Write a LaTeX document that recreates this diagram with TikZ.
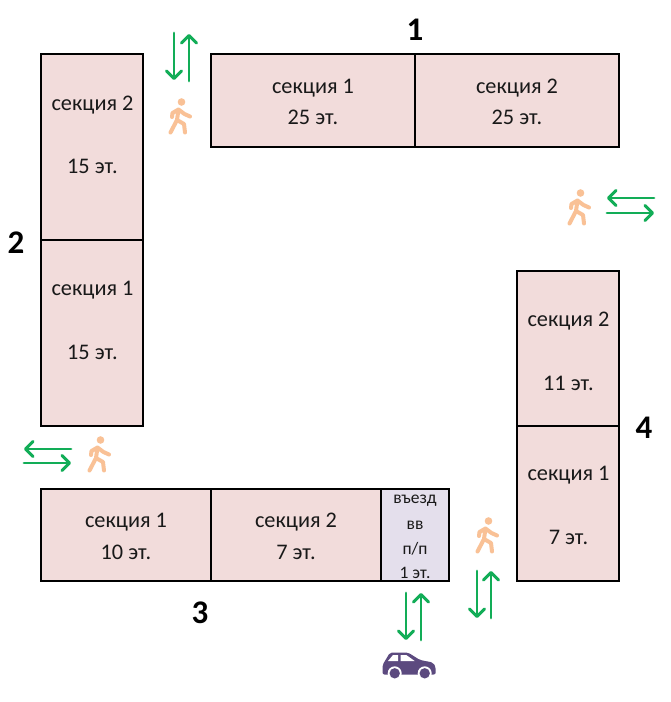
\documentclass[tikz,border=0pt]{standalone}
\usepackage{fontspec}
\setmainfont{Carlito}
\usetikzlibrary{arrows.meta}
\definecolor{pinkfill}{HTML}{F2DCDB}
\definecolor{lilacfill}{HTML}{E4DFEC}
\definecolor{flow}{HTML}{12AD57}
\definecolor{walk}{HTML}{F9C196}
\definecolor{carcol}{HTML}{5C4A7F}
\pgfdeclarearrow{
  name=VBarb,
  setup code={
    \pgfarrowssettipend{1.5pt}
    \pgfarrowssetbackend{-8pt}
    \pgfarrowssetlineend{-1pt}
    \pgfarrowssetvisualbackend{-1pt}
  },
  drawing code={
    \pgfsetlinewidth{3pt}
    \pgfsetroundcap
    \pgfsetroundjoin
    \pgfsetdash{}{0pt}
    \pgfpathmoveto{\pgfpoint{-7.5pt}{7.5pt}}
    \pgfpathlineto{\pgfpointorigin}
    \pgfpathlineto{\pgfpoint{-7.5pt}{-7.5pt}}
    \pgfusepathqstroke
  }
}
\tikzset{
  section/.style={draw=black,line width=2.3pt,fill=pinkfill},
  entry/.style={draw=black,line width=2.3pt,fill=lilacfill},
  lbl/.style={font=\fontsize{22.3}{26}\selectfont,inner sep=0pt,text=black!90},
  small/.style={font=\fontsize{17.5}{20}\selectfont,inner sep=0pt,text=black!90},
  num/.style={font=\fontsize{33}{38}\selectfont\bfseries,inner sep=0pt},
  flowarrow/.style={draw=flow,line width=2.8pt,line cap=round,-{VBarb}},
  walker/.pic={
    \fill[walk] (2.5,-15) circle (3.8);
    \draw[walk,line width=4pt,line cap=round,line join=round]
      (-0.5,-7.5) -- (-2,3) -- (-8.5,15.5)
      (-2,3) -- (5,7) -- (6,15.5)
      (-0.5,-7.5) -- (-6.5,-4) -- (-7,0)
      (-0.5,-7.5) -- (5.5,-3) -- (11,-0.5);
  },
  carpic/.pic={
    \fill[carcol,rounded corners=2pt] (-27.5,8.5) -- (-27.5,-1) -- (-20,-13.5) -- (-2,-13.5) -- (10,-6) -- (23,-3.5) -- (25.7,1) -- (25.7,8.5) -- cycle;
    \fill[white] (-22,-5) -- (-17,-11) -- (-12,-11) -- (-12,-5) -- cycle;
    \fill[white] (-9.3,-11) -- (-3.7,-11) -- (4.7,-5) -- (-9.3,-5) -- cycle;
    \foreach \wx in {-15.3,14.7} {
      \fill[white] (\wx,7.3) circle (7);
      \fill[carcol] (\wx,7.3) circle (5.2);
    }
  }
}
\begin{document}
\begin{tikzpicture}[x=1pt,y=-1pt]
\useasboundingbox[fill=white] (0,0) rectangle (670,702);
% block 1
\path[section] (211,54) rectangle (415,147);
\path[section] (415,54) rectangle (619,147);
\node[lbl] (a1) at (313,88.5) {секция 1};
\node[lbl] (a2) at (313,117) {25 эт.};
\node[lbl] (a3) at (517,88.5) {секция 2};
\node[lbl] (a4) at (517,117) {25 эт.};
\node[num] (n1) at (415,30) {1};
% block 2
\path[section] (41,54) rectangle (143,240);
\path[section] (41,240) rectangle (143,426);
\node[lbl] (b1) at (92.5,105.5) {секция 2};
\node[lbl] (b2) at (92.5,166.5) {15 эт.};
\node[lbl] (b3) at (92.5,290.5) {секция 1};
\node[lbl] (b4) at (92.5,352) {15 эт.};
\node[num] (n2) at (16,243) {2};
% block 3
\path[section] (41,489) rectangle (211,581);
\path[section] (211,489) rectangle (381,581);
\path[entry] (381,489) rectangle (449,581);
\node[lbl] (c1) at (126,522.5) {секция 1};
\node[lbl] (c2) at (126,552) {10 эт.};
\node[lbl] (c3) at (296,522.5) {секция 2};
\node[lbl] (c4) at (296,552) {7 эт.};
\node[small] (e1) at (415,500.5) {въезд};
\node[small] (e2) at (415,525) {вв};
\node[small] (e3) at (415,548.5) {п/п};
\node[small] (e4) at (415,572.5) {1 эт.};
\node[num] (n3) at (200,613) {3};
% block 4
\path[section] (517,271) rectangle (619,426);
\path[section] (517,426) rectangle (619,581);
\node[lbl] (d1) at (568.5,321.5) {секция 2};
\node[lbl] (d2) at (568.5,383) {11 эт.};
\node[lbl] (d3) at (568.5,475.5) {секция 1};
\node[lbl] (d4) at (568.5,537) {7 эт.};
\node[num] (n4) at (644,428) {4};
% walkers
\pic at (179,117) {walker};
\pic at (578,208) {walker};
\pic at (98,455) {walker};
\pic at (486,536) {walker};
% car
\pic at (410,666) {carpic};
% flows
\coordinate (ta) at (174,33); \coordinate (tb) at (174,80);
\coordinate (tc) at (189,81); \coordinate (td) at (189,34);
\draw[flowarrow] (ta) -- (tb);
\draw[flowarrow] (tc) -- (td);
\coordinate (ra) at (654,198); \coordinate (rb) at (607,198);
\coordinate (rc) at (607,213); \coordinate (rd) at (654,213);
\draw[flowarrow] (ra) -- (rb);
\draw[flowarrow] (rc) -- (rd);
\coordinate (la) at (71,449); \coordinate (lb) at (24,449);
\coordinate (lc) at (24,463); \coordinate (ld) at (71,463);
\draw[flowarrow] (la) -- (lb);
\draw[flowarrow] (lc) -- (ld);
\coordinate (ca) at (406,593); \coordinate (cb) at (406,640);
\coordinate (cc) at (421,640); \coordinate (cd) at (421,593);
\draw[flowarrow] (ca) -- (cb);
\draw[flowarrow] (cc) -- (cd);
\coordinate (wa) at (477,571); \coordinate (wb) at (477,618);
\coordinate (wc) at (491,618); \coordinate (wd) at (491,571);
\draw[flowarrow] (wa) -- (wb);
\draw[flowarrow] (wc) -- (wd);
\end{tikzpicture}
\end{document}
